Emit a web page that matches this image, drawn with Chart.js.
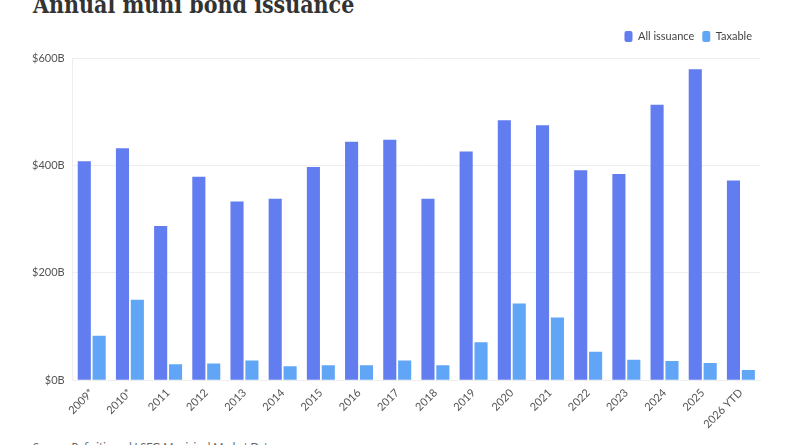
<!DOCTYPE html>
<html>
<head>
<meta charset="utf-8">
<script src="https://cdn.jsdelivr.net/npm/chart.js@4/dist/chart.umd.min.js"></script>
<style>
  html, body { margin: 0; padding: 0; background: #fff; overflow: hidden; }
  body { width: 800px; height: 445px; position: relative; }
  #title {
    position: absolute; left: 33px; top: -10px;
    font-family: "DejaVu Serif", serif; font-weight: bold; font-size: 24px;
    color: #333; white-space: nowrap; line-height: 30px;
    transform: scaleX(0.86); transform-origin: left top;
  }
  #wrap { position: absolute; left: 0; top: 23px; width: 800px; height: 414px; }
  #source {
    position: absolute; left: 33px; top: 440px;
    font-family: Lato, sans-serif; font-size: 11px; color: #666; white-space: nowrap;
  }
</style>
</head>
<body>
<div id="title">Annual muni bond issuance</div>
<div id="wrap"><canvas id="grafico"></canvas></div>
<div id="source">Source: Refinitiv and LSEG Municipal Market Data</div>
<script>
// years on the x axis
const years = ['2009*', '2010*', '2011', '2012', '2013', '2014', '2015', '2016', '2017',
               '2018', '2019', '2020', '2021', '2022', '2023', '2024', '2025', '2026 YTD'];

// billions of dollars
const allIssuance = [408, 432, 287, 379, 333, 338, 397, 444, 448,
                     338, 426, 484, 475, 391, 384, 513, 579, 372];
const taxable = [83, 150, 30, 31, 37, 26, 28, 28, 37,
                 28, 71, 143, 117, 53, 38, 36, 32, 19];

const yTicks = [0, 200, 400, 600];

const colorAll = '#627df0';
const colorTax = '#61a6f6';

Chart.defaults.font.family = 'Lato, sans-serif';
Chart.defaults.font.size = 11;
Chart.defaults.color = '#666';

// a bit more room under the legend
const legendGap = {
    id: 'legendGap',
    beforeInit(chart) {
        const fitOrig = chart.legend.fit;
        chart.legend.fit = function () {
            fitOrig.bind(chart.legend)();
            this.height += 6;
        };
    }
};

let ctx = document.getElementById('grafico');

new Chart(ctx, {
    type: 'bar',
    data: {
        labels: years,
        datasets: [
            {
                label: 'All issuance',
                data: allIssuance,
                backgroundColor: colorAll,
                categoryPercentage: 0.78,
                barPercentage: 0.88
            },
            {
                label: 'Taxable',
                data: taxable,
                backgroundColor: colorTax,
                categoryPercentage: 0.78,
                barPercentage: 0.88
            }
        ]
    },
    options: {
        responsive: true,
        maintainAspectRatio: false,
        animation: false,
        layout: { padding: { left: 24, right: 40, top: 0, bottom: 0 } },
        plugins: {
            legend: {
                position: 'top',
                align: 'end',
                labels: {
                    boxWidth: 8,
                    boxHeight: 11,
                    useBorderRadius: true,
                    borderRadius: 2,
                    color: '#444',
                    padding: 8,
                    font: { size: 11 }
                }
            },
            tooltip: { enabled: false }
        },
        scales: {
            x: {
                grid: { display: false, drawTicks: false },
                border: { color: '#eeeeee' },
                ticks: {
                    minRotation: 45,
                    maxRotation: 45,
                    padding: 6,
                    color: '#555'
                }
            },
            y: {
                min: 0,
                max: 600,
                afterBuildTicks: (axis) => { axis.ticks = yTicks.map(v => ({ value: v })); },
                grid: { color: '#eeeeee', drawTicks: false },
                border: { color: '#eeeeee' },
                ticks: {
                    padding: 8,
                    color: '#555',
                    callback: (v) => '$' + v + 'B'
                }
            }
        }
    },
    plugins: [legendGap]
});
</script>
</body>
</html>
